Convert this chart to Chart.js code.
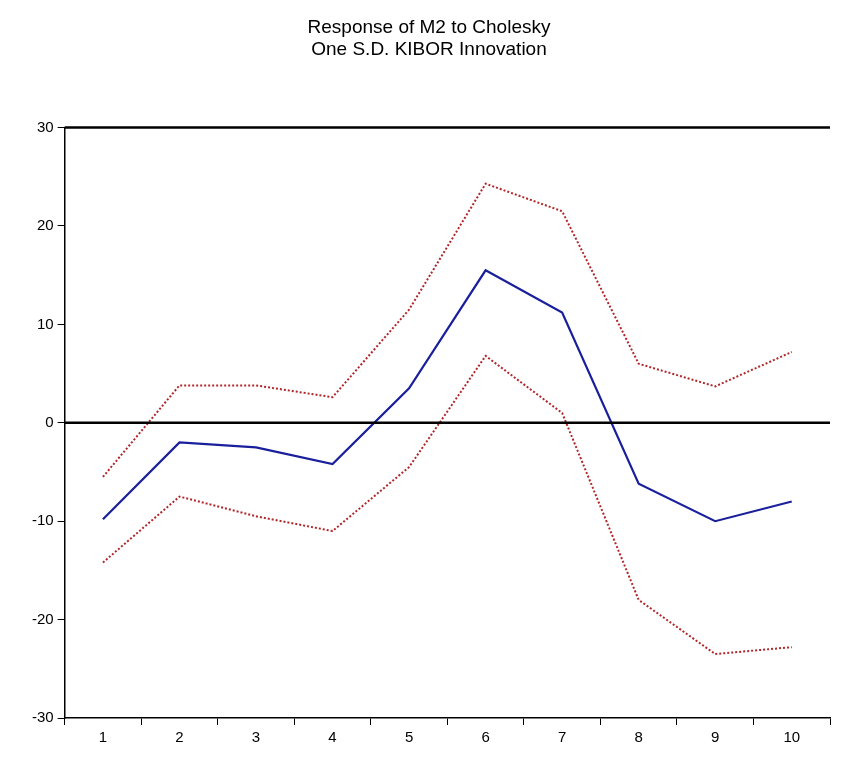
<!DOCTYPE html>
<html>
<head>
<meta charset="utf-8">
<script src="https://cdn.jsdelivr.net/npm/chart.js@4"></script>
<style>
  html, body { margin: 0; padding: 0; background: #fff; }
  #wrap { width: 844px; height: 759px; }
</style>
</head>
<body>
<div id="wrap"><canvas id="myChart"></canvas></div>
<script>
const periods = ['1', '2', '3', '4', '5', '6', '7', '8', '9', '10'];
const response = [-9.8, -2.0, -2.5, -4.2, 3.5, 15.5, 11.2, -6.2, -10.0, -8.0];
const upperBand = [-5.5, 3.8, 3.8, 2.6, 11.5, 24.3, 21.5, 6.0, 3.7, 7.2];
const lowerBand = [-14.2, -7.5, -9.5, -11.0, -4.5, 6.8, 1.0, -18.0, -23.5, -22.8];
const yTicks = [-30, -20, -10, 0, 10, 20, 30];

// thick black lines at zero and at the top of the frame
const refLines = {
    id: 'refLines',
    afterDatasetsDraw(chart) {
        const { ctx, chartArea, scales } = chart;
        ctx.save();
        ctx.strokeStyle = '#000';
        ctx.lineWidth = 2.5;
        [0, 30].forEach(v => {
            const y = scales.y.getPixelForValue(v);
            ctx.beginPath();
            ctx.moveTo(chartArea.left, y);
            ctx.lineTo(chartArea.right, y);
            ctx.stroke();
        });
        ctx.restore();
    }
};

const bandStyle = {
    borderColor: '#b0272a',
    borderWidth: 2,
    borderDash: [2, 2],
    pointRadius: 0,
    tension: 0,
    fill: false
};

new Chart(document.getElementById('myChart'), {
    type: 'line',
    data: {
        labels: periods,
        datasets: [
            { label: 'Upper', data: upperBand, ...bandStyle },
            { label: 'Lower', data: lowerBand, ...bandStyle },
            {
                label: 'Response',
                data: response,
                borderColor: '#1a1f9c',
                borderWidth: 2.2,
                pointRadius: 0,
                tension: 0,
                fill: false
            }
        ]
    },
    options: {
        responsive: true,
        maintainAspectRatio: false,
        animation: false,
        layout: { padding: { left: 28, right: 14, top: 16, bottom: 8 } },
        plugins: {
            legend: { display: false },
            tooltip: { enabled: false },
            title: {
                display: true,
                text: ['Response of M2 to Cholesky', 'One S.D. KIBOR Innovation'],
                color: '#000',
                font: { family: "'Liberation Sans Narrow', 'Liberation Sans', sans-serif", size: 19, weight: 'normal' },
                padding: { top: 0, bottom: 66 }
            }
        },
        scales: {
            x: {
                offset: true,
                grid: { offset: true, drawOnChartArea: false, color: '#000', tickLength: 7, lineWidth: 1 },
                border: { color: '#000', width: 1.5 },
                ticks: { color: '#000', font: { family: "'Liberation Sans Narrow', sans-serif", size: 15 }, padding: 4 }
            },
            y: {
                min: -30,
                max: 30,
                afterBuildTicks: axis => { axis.ticks = yTicks.map(v => ({ value: v })); },
                grid: { drawOnChartArea: false, color: '#000', tickLength: 7 },
                border: { color: '#000', width: 1.5 },
                ticks: { color: '#000', font: { family: "'Liberation Sans Narrow', sans-serif", size: 15 }, padding: 4 }
            }
        }
    },
    plugins: [refLines]
});
</script>
</body>
</html>
